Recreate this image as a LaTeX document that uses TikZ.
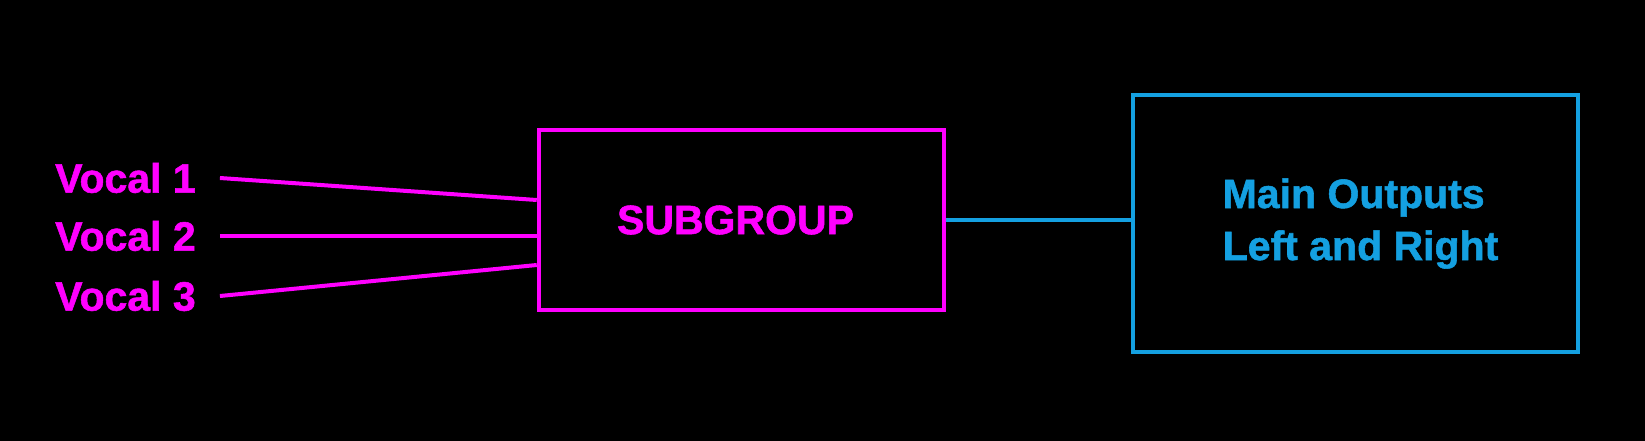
\documentclass[tikz,border=0pt]{standalone}
\usepackage{fontspec}
\setmainfont{Liberation Sans}[BoldFeatures={FakeBold=1.3}]
\usepackage{xcolor}
\usepackage{tikz}

\definecolor{mixmag}{RGB}{255,0,255}
\definecolor{mixblue}{RGB}{20,160,225}

\tikzset{
  boxtext/.style={font=\fontsize{41}{52}\selectfont\bfseries, inner sep=0pt},
  magbox/.style={draw=mixmag, line width=4.5pt, text=mixmag},
  bluebox/.style={draw=mixblue, line width=4.5pt, text=mixblue},
  magline/.style={draw=mixmag, line width=4pt},
  blueline/.style={draw=mixblue, line width=4pt}
}

\begin{document}
\begin{tikzpicture}[x=1pt, y=-1pt]
    \fill[black] (0,0) rectangle (1645,441);
    \useasboundingbox (0,0) rectangle (1645,441);

    \node[boxtext, text=mixmag, anchor=west] (v1) at (55,178) {Vocal 1};
    \node[boxtext, text=mixmag, anchor=west] (v2) at (55,236) {Vocal 2};
    \node[boxtext, text=mixmag, anchor=west] (v3) at (55,296) {Vocal 3};

    \node[magbox, boxtext, minimum width=405pt, minimum height=180pt] (sub) at (741.5,220) {SUBGROUP\hspace*{12pt}};

    \node[bluebox, boxtext, align=left, minimum width=445pt, minimum height=257pt] (main) at (1355.5,223.5)
      {\hspace*{10pt}Main Outputs\\\hspace*{10pt}Left and Right};

    \coordinate (v2out) at ([xshift=24pt]v2.east);
    \draw[magline] ([xshift=24pt]v1.east) -- ([yshift=20pt]sub.west);
    \draw[magline] (v2out) -- (v2out -| sub.west);
    \draw[magline] ([xshift=24pt]v3.east) -- ([yshift=-45pt]sub.west);

    \draw[blueline] (sub.east) -- (sub.east -| main.west);
  \end{tikzpicture}
\end{document}
